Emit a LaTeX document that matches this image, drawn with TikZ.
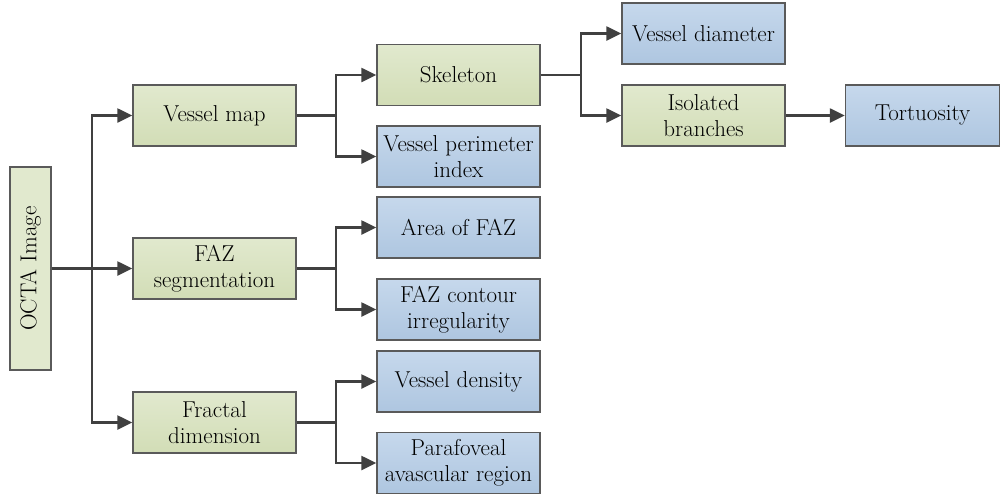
\documentclass[tikz,border=0pt]{standalone}
\usetikzlibrary{arrows.meta}
\definecolor{gtop}{HTML}{E1E9CE}
\definecolor{gbot}{HTML}{D2DDB6}
\definecolor{btop}{HTML}{C6D8EC}
\definecolor{bbot}{HTML}{AEC6E0}
\definecolor{edge}{HTML}{5A5A5A}
\definecolor{conn}{HTML}{404040}
\tikzset{
  box/.style={draw=edge, line width=1.4pt, minimum width=163pt, minimum height=61pt,
    inner sep=1pt, align=center, font=\fontsize{23}{26.5}\selectfont, anchor=center},
  gbox/.style={box, top color=gtop, bottom color=gbot},
  bbox/.style={box, top color=btop, bottom color=bbot},
  conn/.style={draw=conn, line width=2.4pt},
  arr/.style={conn, -{Triangle[length=15pt,width=14pt]}},
}
\begin{document}
\begin{tikzpicture}[x=1pt,y=-1pt]
\useasboundingbox (0,0) rectangle (1000,496);
\node[gbox, rotate=90, minimum width=203pt, minimum height=41pt, left color=gtop, right color=gtop] (octa) at (30.5,268.5) {OCTA Image};
\node[gbox] (vm) at (214.5,115.5) {Vessel map};
\node[gbox] (faz) at (214.5,268.5) {FAZ\\segmentation};
\node[gbox] (fd) at (214.5,422.5) {Fractal\\dimension};
\node[gbox] (sk) at (458.5,75) {Skeleton};
\node[bbox] (vpi) at (458.5,156.5) {Vessel perimeter\\index};
\node[bbox] (area) at (458.5,227.5) {Area of FAZ};
\node[bbox] (cont) at (458.5,309.5) {FAZ contour\\irregularity};
\node[bbox] (dens) at (458.5,381.5) {Vessel density};
\node[bbox] (para) at (458.5,463) {Parafoveal\\avascular region};
\node[bbox] (diam) at (703.5,33.5) {Vessel diameter};
\node[gbox] (iso) at (703.5,115.5) {Isolated\\branches};
\node[bbox, minimum width=154pt] (tort) at (922.5,115.5) {Tortuosity};

\coordinate (j1) at (92,268.5);
\coordinate (j2) at (336,115.5);
\coordinate (j3) at (336,268.5);
\coordinate (j4) at (336,422.5);
\coordinate (j5) at (581,75);

\draw[conn] (octa.south) -- (j1);
\draw[arr] (j1) |- (vm.west);
\draw[arr] (j1) -- (faz.west);
\draw[arr] (j1) |- (fd.west);

\draw[conn] (vm.east) -- (j2);
\draw[arr] (j2) |- (sk.west);
\draw[arr] (j2) |- (vpi.west);

\draw[conn] (faz.east) -- (j3);
\draw[arr] (j3) |- (area.west);
\draw[arr] (j3) |- (cont.west);

\draw[conn] (fd.east) -- (j4);
\draw[arr] (j4) |- (dens.west);
\draw[arr] (j4) |- (para.west);

\draw[conn] (sk.east) -- (j5);
\draw[arr] (j5) |- (diam.west);
\draw[arr] (j5) |- (iso.west);

\draw[arr] (iso.east) -- (tort.west);
\end{tikzpicture}
\end{document}
